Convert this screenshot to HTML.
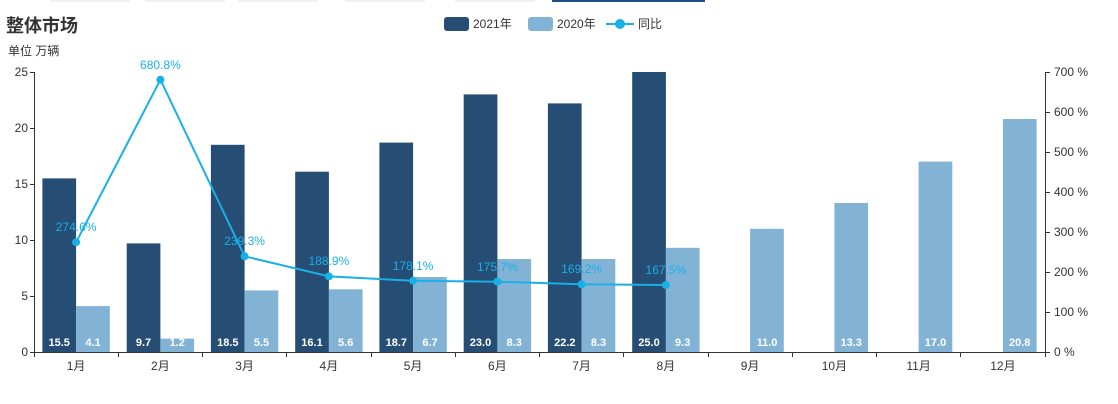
<!DOCTYPE html>
<html><head><meta charset="utf-8"><style>
body{margin:0;background:#fff;}
svg{display:block;font-family:"Liberation Sans","Noto Sans CJK SC",sans-serif;}
</style></head><body>
<svg width="1118" height="404" viewBox="0 0 1118 404">
<g fill="#eef0f3"><rect x="50" y="0" width="80" height="2"/><rect x="145" y="0" width="80" height="2"/><rect x="238" y="0" width="80" height="2"/><rect x="345" y="0" width="80" height="2"/><rect x="455" y="0" width="80" height="2"/></g>
<rect x="552" y="0" width="153" height="2" fill="#1f4e8c"/>
<text x="6" y="32" font-size="18" font-weight="bold" fill="#333">整体市场</text>
<text x="8" y="55" font-size="12" fill="#333">单位 万辆</text>
<rect x="444" y="17" width="25" height="14" rx="3" fill="#264d73"/><text x="473" y="28" font-size="12" fill="#333">2021年</text>
<rect x="528" y="17" width="25" height="14" rx="3" fill="#82b3d5"/><text x="557" y="28" font-size="12" fill="#333">2020年</text>
<line x1="606" y1="24" x2="634" y2="24" stroke="#1ab0e6" stroke-width="2"/><circle cx="620" cy="24" r="5" fill="#1ab0e6"/><text x="638" y="28" font-size="12" fill="#333">同比</text>
<g font-size="12" fill="#333" text-anchor="end">
<text x="28" y="356">0</text><text x="28" y="300">5</text><text x="28" y="244">10</text><text x="28" y="188">15</text><text x="28" y="132">20</text><text x="28" y="76">25</text></g>
<g font-size="12" fill="#333"><text x="1054" y="356">0 %</text><text x="1054" y="316">100 %</text><text x="1054" y="276">200 %</text><text x="1054" y="236">300 %</text><text x="1054" y="196">400 %</text><text x="1054" y="156">500 %</text><text x="1054" y="116">600 %</text><text x="1054" y="76">700 %</text></g>
<g stroke="#333" stroke-width="1">
<line x1="34.5" y1="72" x2="34.5" y2="352"/><line x1="1045.5" y1="72" x2="1045.5" y2="352"/>
<line x1="30" y1="352.5" x2="1050" y2="352.5"/>
<line x1="30" y1="72.5" x2="34" y2="72.5"/><line x1="30" y1="128.5" x2="34" y2="128.5"/><line x1="30" y1="184.5" x2="34" y2="184.5"/><line x1="30" y1="240.5" x2="34" y2="240.5"/><line x1="30" y1="296.5" x2="34" y2="296.5"/>
<line x1="1046" y1="72.5" x2="1050" y2="72.5"/><line x1="1046" y1="112.5" x2="1050" y2="112.5"/><line x1="1046" y1="152.5" x2="1050" y2="152.5"/><line x1="1046" y1="192.5" x2="1050" y2="192.5"/><line x1="1046" y1="232.5" x2="1050" y2="232.5"/><line x1="1046" y1="272.5" x2="1050" y2="272.5"/><line x1="1046" y1="312.5" x2="1050" y2="312.5"/>
<line x1="34.5" y1="352" x2="34.5" y2="357"/><line x1="118.5" y1="352" x2="118.5" y2="357"/><line x1="202.5" y1="352" x2="202.5" y2="357"/><line x1="286.5" y1="352" x2="286.5" y2="357"/><line x1="371.5" y1="352" x2="371.5" y2="357"/><line x1="455.5" y1="352" x2="455.5" y2="357"/><line x1="539.5" y1="352" x2="539.5" y2="357"/><line x1="623.5" y1="352" x2="623.5" y2="357"/><line x1="708.5" y1="352" x2="708.5" y2="357"/><line x1="792.5" y1="352" x2="792.5" y2="357"/><line x1="876.5" y1="352" x2="876.5" y2="357"/><line x1="960.5" y1="352" x2="960.5" y2="357"/><line x1="1045.5" y1="352" x2="1045.5" y2="357"/>
</g>
<g fill="#264d73">
<rect x="42.4" y="178.4" width="33.7" height="173.6"/><rect x="126.7" y="243.4" width="33.7" height="108.6"/><rect x="210.9" y="144.8" width="33.7" height="207.2"/><rect x="295.2" y="171.7" width="33.7" height="180.3"/><rect x="379.4" y="142.6" width="33.7" height="209.4"/><rect x="463.7" y="94.4" width="33.7" height="257.6"/><rect x="547.9" y="103.4" width="33.7" height="248.6"/><rect x="632.2" y="72" width="33.7" height="280"/>
</g>
<g fill="#82b3d5">
<rect x="76.1" y="306.1" width="33.7" height="45.9"/><rect x="160.4" y="338.6" width="33.7" height="13.4"/><rect x="244.6" y="290.4" width="33.7" height="61.6"/><rect x="328.9" y="289.3" width="33.7" height="62.7"/><rect x="413.1" y="277" width="33.7" height="75"/><rect x="497.4" y="259" width="33.7" height="93"/><rect x="581.6" y="259" width="33.7" height="93"/><rect x="665.9" y="247.8" width="33.7" height="104.2"/><rect x="750.1" y="228.8" width="33.7" height="123.2"/><rect x="834.4" y="203" width="33.7" height="149"/><rect x="918.6" y="161.6" width="33.7" height="190.4"/><rect x="1002.9" y="119" width="33.7" height="233"/>
</g>
<g font-size="11" font-weight="bold" fill="#fff" text-anchor="middle">
<text x="59.2" y="346">15.5</text><text x="143.5" y="346">9.7</text><text x="227.8" y="346">18.5</text><text x="312" y="346">16.1</text><text x="396.3" y="346">18.7</text><text x="480.5" y="346">23.0</text><text x="564.8" y="346">22.2</text><text x="649" y="346">25.0</text>
<text x="93" y="346">4.1</text><text x="177.2" y="346">1.2</text><text x="261.5" y="346">5.5</text><text x="345.7" y="346">5.6</text><text x="430" y="346">6.7</text><text x="514.2" y="346">8.3</text><text x="598.5" y="346">8.3</text><text x="682.7" y="346">9.3</text><text x="767" y="346">11.0</text><text x="851.2" y="346">13.3</text><text x="935.5" y="346">17.0</text><text x="1019.7" y="346">20.8</text>
</g>
<g font-size="12" fill="#333" text-anchor="middle">
<text x="76.1" y="370">1月</text><text x="160.4" y="370">2月</text><text x="244.6" y="370">3月</text><text x="328.9" y="370">4月</text><text x="413.1" y="370">5月</text><text x="497.4" y="370">6月</text><text x="581.6" y="370">7月</text><text x="665.9" y="370">8月</text><text x="750.1" y="370">9月</text><text x="834.4" y="370">10月</text><text x="918.6" y="370">11月</text><text x="1002.9" y="370">12月</text>
</g>
<polyline points="76.1,242.2 160.4,79.7 244.6,256.3 328.9,276.4 413.1,280.8 497.4,281.7 581.6,284.3 665.9,285" fill="none" stroke="#1ab0e6" stroke-width="2"/>
<g fill="#1ab0e6"><circle cx="76.1" cy="242.2" r="4"/><circle cx="160.4" cy="79.7" r="4"/><circle cx="244.6" cy="256.3" r="4"/><circle cx="328.9" cy="276.4" r="4"/><circle cx="413.1" cy="280.8" r="4"/><circle cx="497.4" cy="281.7" r="4"/><circle cx="581.6" cy="284.3" r="4"/><circle cx="665.9" cy="285" r="4"/></g>
<g font-size="12" fill="#1ab0e6" text-anchor="middle">
<text x="76.1" y="231">274.6%</text><text x="160.4" y="69">680.8%</text><text x="244.6" y="245">239.3%</text><text x="328.9" y="265">188.9%</text><text x="413.1" y="270">178.1%</text><text x="497.4" y="271">175.7%</text><text x="581.6" y="273">169.2%</text><text x="665.9" y="274">167.5%</text>
</g>
</svg>
</body></html>
